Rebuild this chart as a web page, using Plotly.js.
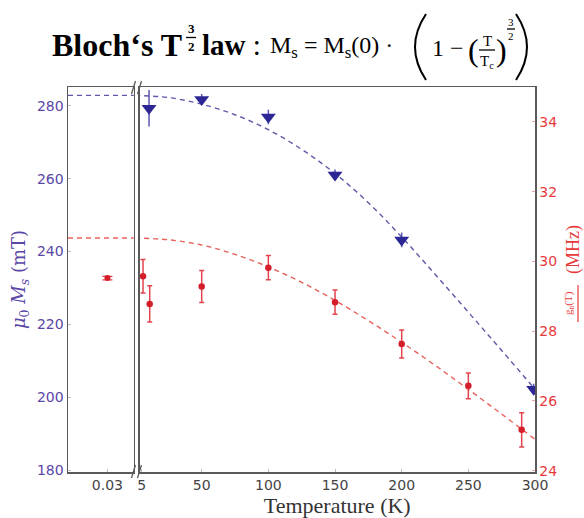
<!DOCTYPE html>
<html>
<head>
<meta charset="utf-8">
<script src="https://cdn.plot.ly/plotly-3.0.1.min.js"></script>
<style>
  html, body { margin: 0; padding: 0; background: #fff; }
  #chart { width: 584px; height: 518px; }
</style>
</head>
<body>
<div id="chart"></div>
<script>
// ---- measured data ----
// Saturation magnetisation (left axis, mT), triangles
const magT      = [10.5, 50, 100, 150, 200, 299];
const magMs     = [279.3, 281.7, 276.9, 261.0, 243.2, 202.3];
const magErr    = [5.0, 1.5, 2.0, 1.5, 2.0, 1.5];

// Frequency ratio (right axis, MHz), dots
const freqT     = [6, 11, 50, 100, 150, 200, 250, 290];
const freqVal   = [29.57, 28.78, 29.28, 29.82, 28.83, 27.63, 26.43, 25.17];
const freqErr   = [0.48, 0.52, 0.46, 0.35, 0.35, 0.40, 0.37, 0.49];

// Low-temperature point (shown in the narrow left panel)
const lowT      = [0.03];
const lowFreq   = [29.52];
const lowErr    = [0.05];

// Bloch T^3/2 fit curves
const fitT      = [0, 25, 50, 75, 100, 125, 150, 175, 200, 225, 250, 275, 300];
const fitMs     = [282.8, 282.2, 280.4, 277.5, 273.4, 268.0, 261.4, 253.4, 244.0, 233.8, 223.4, 212.9, 202.3];
const fitFreq   = [30.67, 30.62, 30.47, 30.20, 29.84, 29.40, 28.88, 28.30, 27.68, 27.02, 26.33, 25.62, 24.90];

// Axis ticks
const lowTicks  = [0.03];
const lowTickTx = ['0.03'];
const tTicks    = [5, 50, 100, 150, 200, 250, 300];
const msTicks   = [180, 200, 220, 240, 260, 280];
const fTicks    = [24, 26, 28, 30, 32, 34];

// ---- styling ----
const BLUE = '#2c2794';
const BLUE_FIT = '#5f5aa8';
const PURPLE_TXT = '#5a47a6';
const RED = '#d41f2b';
const RED_BAR = '#e3434c';
const RED_FIT = '#e8625c';
const RED_TXT = '#e8393a';
const FRAME = '#5a5a5a';

const W = 584, H = 518;
const M = { l: 68, r: 49, t: 87, b: 46 };
const PW = W - M.l - M.r, PH = H - M.t - M.b;
const px = x => (x - M.l) / PW;
const py = y => (H - M.b - y) / PH;

const dash = '5px,4px';
const traces = [
  // fit lines, left panel (flat low-temperature limit)
  { x: fitT, y: fitMs, xaxis: 'x', yaxis: 'y', mode: 'lines', line: { color: BLUE_FIT, width: 1.4, dash: dash }, hoverinfo: 'skip' },
  { x: fitT, y: fitFreq, xaxis: 'x', yaxis: 'y3', mode: 'lines', line: { color: RED_FIT, width: 1.4, dash: dash }, hoverinfo: 'skip' },
  // fit lines, main panel
  { x: fitT, y: fitMs, xaxis: 'x2', yaxis: 'y', mode: 'lines', line: { color: BLUE_FIT, width: 1.4, dash: dash, shape: 'spline' }, hoverinfo: 'skip' },
  { x: fitT, y: fitFreq, xaxis: 'x2', yaxis: 'y2', mode: 'lines', line: { color: RED_FIT, width: 1.4, dash: dash, shape: 'spline' }, hoverinfo: 'skip' },
  // low-T point
  { x: lowT, y: lowFreq, xaxis: 'x', yaxis: 'y3', mode: 'markers',
    marker: { color: RED, size: 6 },
    error_y: { type: 'data', array: lowErr, visible: true, color: RED_BAR, thickness: 1.2, width: 5 } },
  // frequency data
  { x: freqT, y: freqVal, xaxis: 'x2', yaxis: 'y2', mode: 'markers',
    marker: { color: RED, size: 6.5 },
    error_y: { type: 'data', array: freqErr, visible: true, color: RED_BAR, thickness: 1.5, width: 2.5 } },
  // magnetisation data
  { x: magT, y: magMs, xaxis: 'x2', yaxis: 'y', mode: 'markers',
    marker: { color: BLUE, size: 13, symbol: 'triangle-down' },
    error_y: { type: 'data', array: magErr, visible: true, color: '#5b55b0', thickness: 1.5, width: 0 } }
];

const tickFont = (c) => ({ family: 'DejaVu Sans', size: 14, color: c });

const layout = {
  width: W, height: H,
  margin: M,
  paper_bgcolor: '#fff', plot_bgcolor: '#fff',
  showlegend: false,
  xaxis: {
    domain: [0, px(133.7)], range: [0, 0.05], anchor: 'y',
    tickvals: lowTicks, ticktext: lowTickTx, tickfont: tickFont('#444'),
    ticks: 'inside', ticklen: 3, tickcolor: '#bbb',
    showline: true, mirror: true, linecolor: FRAME, linewidth: 1.5,
    showgrid: false, zeroline: false
  },
  xaxis2: {
    domain: [px(139.5), 1], range: [3.35, 300], anchor: 'y2',
    tickvals: tTicks, tickfont: tickFont('#444'),
    ticks: 'inside', ticklen: 3, tickcolor: '#bbb',
    showline: true, mirror: true, linecolor: FRAME, linewidth: 1.5,
    showgrid: false, zeroline: false,
    title: { text: 'Temperature (K)', font: { family: 'Liberation Serif', size: 22, color: '#333' }, standoff: 4 }
  },
  yaxis: {
    range: [179.6, 285.1], anchor: 'x',
    tickvals: msTicks, tickfont: tickFont(PURPLE_TXT),
    ticks: 'inside', ticklen: 3, tickcolor: '#bbb',
    showline: true, mirror: true, linecolor: FRAME, linewidth: 1.5,
    showgrid: false, zeroline: false,
    title: { text: '<i>μ</i><sub>0</sub> <i>M</i><sub><i>s</i></sub> (mT)', font: { family: 'DejaVu Serif', size: 18, color: PURPLE_TXT }, standoff: 6 }
  },
  yaxis2: {
    range: [23.96, 35.0], anchor: 'x2', overlaying: 'y', side: 'right',
    tickvals: fTicks, tickfont: tickFont(RED_TXT),
    ticks: 'inside', ticklen: 3, tickcolor: '#f0a0a0',
    showline: true, mirror: true, linecolor: FRAME, linewidth: 1.5,
    showgrid: false, zeroline: false
  },
  yaxis3: {
    range: [23.96, 35.0], anchor: 'x', overlaying: 'y', visible: false
  },
  shapes: [],
  annotations: []
};

// axis-break marks between the two panels
const breaks = [[465, 478], [81, 94]];
breaks.forEach(([y1, y2]) => {
  [[131.5, 135.5], [137.5, 141.5]].forEach(([x1, x2]) => {
    layout.shapes.push({ type: 'line', xref: 'paper', yref: 'paper',
      x0: px(x1), y0: py(y2), x1: px(x2), y1: py(y1),
      line: { color: FRAME, width: 1.3 } });
  });
});

// text helper (pixel placement in paper space)
function txt(s, x, y, size, opts = {}) {
  layout.annotations.push(Object.assign({
    text: s, xref: 'paper', yref: 'paper', x: px(x), y: py(y),
    xanchor: 'left', yanchor: 'middle', showarrow: false,
    font: { family: opts.family || 'Liberation Serif', size: size, color: opts.color || '#000' }
  }, opts.extra || {}));
}
function bar(x0, x1, y, w = 1.3, c = '#000') {
  layout.shapes.push({ type: 'line', xref: 'paper', yref: 'paper',
    x0: px(x0), x1: px(x1), y0: py(y), y1: py(y), line: { color: c, width: w } });
}
// tall thin bracket drawn as a curve
function paren(xEnd, xMid, yTop, yBot) {
  const yc = (yTop + yBot) / 2;
  const xc = 2 * xMid - xEnd;
  layout.shapes.push({ type: 'path', xref: 'paper', yref: 'paper',
    path: `M ${px(xEnd)} ${py(yTop)} Q ${px(xc)} ${py(yc)} ${px(xEnd)} ${py(yBot)}`,
    line: { color: '#000', width: 2 } });
}
const C = { extra: { xanchor: 'center' } };

// title: Bloch's T^(3/2) law : Ms = Ms(0)·(1 − (T/Tc)^(3/2))
txt('<b>Bloch‘s T</b>', 50, 45, 32);
txt('<b>3</b>', 191, 29, 13, C);
bar(186, 196, 37.5);
txt('<b>2</b>', 191, 46, 13, C);
txt('<b>law</b> :', 200, 45, 29);
txt('M<sub>s</sub> = M<sub>s</sub>(0) ·', 268, 47, 24);
paren(426, 415, 14, 80);
txt('1 −', 430, 48, 24);
txt('(', 466, 50, 32);
txt('T', 487, 41, 15, C);
bar(479, 495, 50);
txt('T<sub>c</sub>', 487, 62, 15, C);
txt(')', 494, 50, 32);
txt('3', 511, 22, 11, C);
bar(507, 515, 29);
txt('2', 511, 36, 11, C);
paren(516, 527, 14, 80);

// right axis title (partly beyond the canvas edge)
layout.annotations.push({
  text: '(MHz)', xref: 'paper', yref: 'paper', x: px(573), y: py(250),
  xanchor: 'center', yanchor: 'middle', showarrow: false, textangle: -90,
  font: { family: 'Liberation Serif', size: 18, color: RED_TXT }
});
layout.annotations.push({
  text: 'g<sub>n</sub>(T)', xref: 'paper', yref: 'paper', x: px(569), y: py(303),
  xanchor: 'center', yanchor: 'middle', showarrow: false, textangle: -90,
  font: { family: 'Liberation Serif', size: 11, color: RED_TXT }
});
layout.shapes.push({ type: 'line', xref: 'paper', yref: 'paper',
  x0: px(578), x1: px(578), y0: py(285), y1: py(322), line: { color: RED_TXT, width: 1.2 } });

Plotly.newPlot('chart', traces, layout, { staticPlot: true, displayModeBar: false });
</script>
</body>
</html>
